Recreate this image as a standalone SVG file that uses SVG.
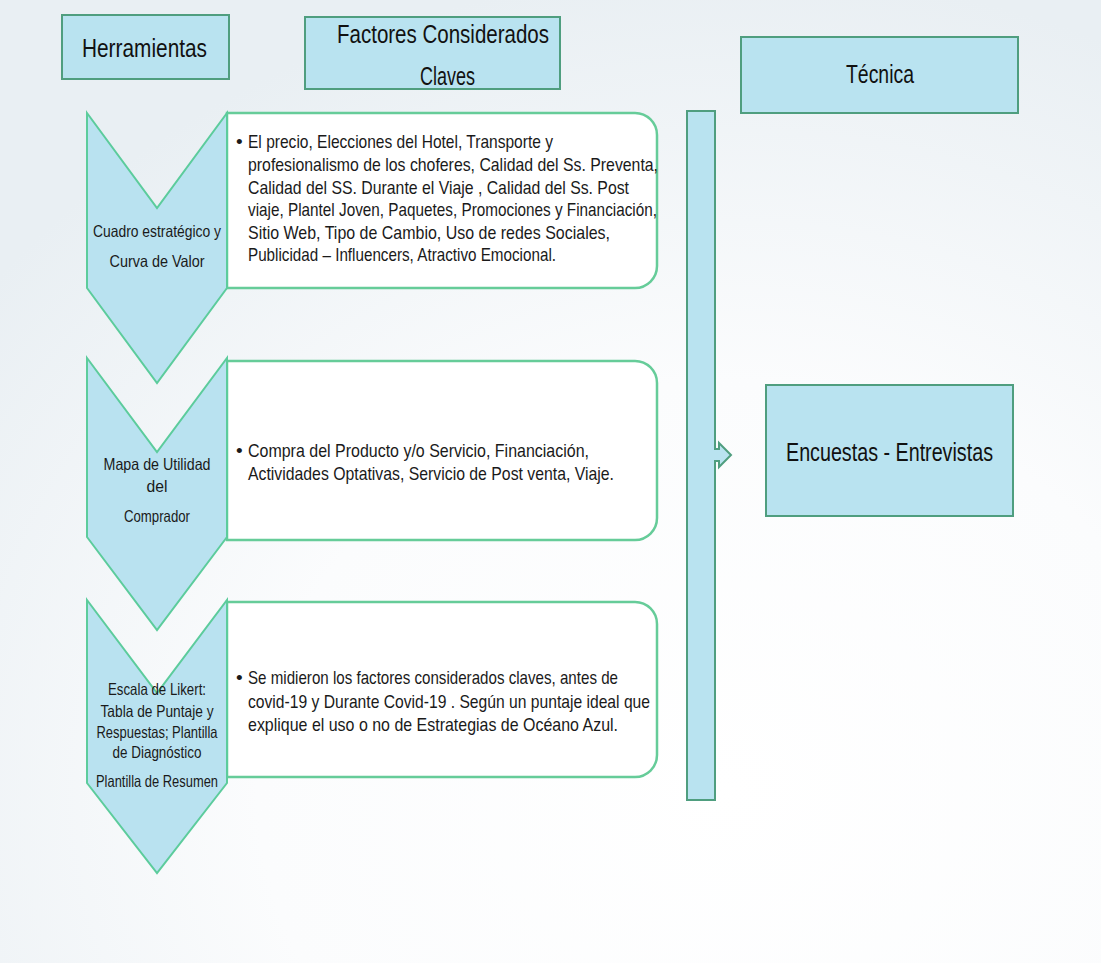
<svg xmlns="http://www.w3.org/2000/svg" width="1101" height="963" viewBox="0 0 1101 963">
<defs>
<radialGradient id="bg" cx="0.66" cy="0.82" r="0.85">
<stop offset="0" stop-color="#ffffff"/>
<stop offset="0.5" stop-color="#fbfcfd"/>
<stop offset="1" stop-color="#e9eff3"/>
</radialGradient>
<style>
.hdr{fill:#b9e3f0;stroke:#4f9e7f;stroke-width:2}
.chev{fill:#b9e2f0;stroke:#5ccc9c;stroke-width:2;stroke-linejoin:miter}
.box{fill:#ffffff;stroke:#66cc99;stroke-width:2.5}
.ht{font-family:"Liberation Sans",Arial,sans-serif;font-size:26px;fill:#111}
.bt{font-family:"Liberation Sans",Arial,sans-serif;font-size:19px;fill:#1a1a1a}
.ct{font-family:"Liberation Sans",Arial,sans-serif;font-size:16.5px;fill:#1a1a1a}
</style>
</defs>
<rect x="0" y="0" width="1101" height="963" fill="url(#bg)"/>

<g id="herramientas">
<rect class="hdr" x="62" y="15" width="167" height="64"/>
<text class="ht" x="82" y="57" textLength="125" lengthAdjust="spacingAndGlyphs">Herramientas</text>
</g>
<g id="factores">
<rect class="hdr" x="305" y="17" width="255" height="72"/>
<text class="ht" x="337" y="43" textLength="212" lengthAdjust="spacingAndGlyphs">Factores Considerados</text>
<text class="ht" x="420" y="85" textLength="55" lengthAdjust="spacingAndGlyphs">Claves</text>
</g>
<g id="tecnica">
<rect class="hdr" x="741" y="37" width="277" height="76"/>
<text class="ht" x="846" y="83" textLength="68" lengthAdjust="spacingAndGlyphs">Técnica</text>
</g>

<g id="box1">
<path class="box" d="M227,113 H635 A22,22 0 0 1 657,135 V266 A22,22 0 0 1 635,288 H227 Z"/>
<text class="bt" x="236" y="148">•</text>
<text class="bt" x="248" y="148" textLength="305" lengthAdjust="spacingAndGlyphs">El precio, Elecciones del Hotel, Transporte y</text>
<text class="bt" x="248" y="171" textLength="410" lengthAdjust="spacingAndGlyphs">profesionalismo de los choferes, Calidad del Ss. Preventa,</text>
<text class="bt" x="248" y="193.5" textLength="381" lengthAdjust="spacingAndGlyphs">Calidad del SS. Durante el Viaje , Calidad del Ss. Post</text>
<text class="bt" x="248" y="216" textLength="409" lengthAdjust="spacingAndGlyphs">viaje, Plantel Joven, Paquetes, Promociones y Financiación,</text>
<text class="bt" x="248" y="239" textLength="362" lengthAdjust="spacingAndGlyphs">Sitio Web, Tipo de Cambio, Uso de redes Sociales,</text>
<text class="bt" x="248" y="261" textLength="308" lengthAdjust="spacingAndGlyphs">Publicidad – Influencers, Atractivo Emocional.</text>
</g>
<g id="box2">
<path class="box" d="M227,361 H635 A22,22 0 0 1 657,383 V518 A22,22 0 0 1 635,540 H227 Z"/>
<text class="bt" x="236" y="457">•</text>
<text class="bt" x="248" y="457" textLength="341" lengthAdjust="spacingAndGlyphs">Compra del Producto y/o Servicio, Financiación,</text>
<text class="bt" x="248" y="480" textLength="366" lengthAdjust="spacingAndGlyphs">Actividades Optativas, Servicio de Post venta, Viaje.</text>
</g>
<g id="box3">
<path class="box" d="M227,602 H635 A22,22 0 0 1 657,624 V755 A22,22 0 0 1 635,777 H227 Z"/>
<text class="bt" x="236" y="684">•</text>
<text class="bt" x="248" y="684" textLength="370" lengthAdjust="spacingAndGlyphs">Se midieron los factores considerados claves, antes de</text>
<text class="bt" x="248" y="708" textLength="402" lengthAdjust="spacingAndGlyphs">covid-19 y Durante Covid-19 . Según un puntaje ideal que</text>
<text class="bt" x="248" y="731" textLength="370" lengthAdjust="spacingAndGlyphs">explique el uso o no de Estrategias de Océano Azul.</text>
</g>

<g id="chevron1">
<polygon class="chev" points="87,113 157,208 227,113 227,288 157,383 87,288"/>
<text class="ct" x="93" y="237" textLength="128" lengthAdjust="spacingAndGlyphs">Cuadro estratégico y</text>
<text class="ct" x="109.5" y="267" textLength="95" lengthAdjust="spacingAndGlyphs">Curva de Valor</text>
</g>
<g id="chevron2">
<polygon class="chev" points="87,358 157,452 227,358 227,537 157,630 87,537"/>
<text class="ct" x="103.5" y="470" textLength="107" lengthAdjust="spacingAndGlyphs">Mapa de Utilidad</text>
<text class="ct" x="146.5" y="492" textLength="21" lengthAdjust="spacingAndGlyphs">del</text>
<text class="ct" x="124" y="522" textLength="66" lengthAdjust="spacingAndGlyphs">Comprador</text>
</g>
<g id="chevron3">
<polygon class="chev" points="87,600 157,693 227,600 227,783 157,873 87,783"/>
<text class="ct" x="108" y="695" textLength="98" lengthAdjust="spacingAndGlyphs">Escala de Likert:</text>
<text class="ct" x="100.5" y="717" textLength="113" lengthAdjust="spacingAndGlyphs">Tabla de Puntaje y</text>
<text class="ct" x="96.5" y="738" textLength="121" lengthAdjust="spacingAndGlyphs">Respuestas; Plantilla</text>
<text class="ct" x="112.5" y="758" textLength="89" lengthAdjust="spacingAndGlyphs">de Diagnóstico</text>
<text class="ct" x="96" y="787" textLength="122" lengthAdjust="spacingAndGlyphs">Plantilla de Resumen</text>
</g>

<g id="connectors">
<path id="bar-arrow" class="hdr" d="M687,111 H715 V449 H719 V443 L731,455 L719,467 V461 H715 V800 H687 Z"/>
</g>

<g id="encuestas">
<rect class="hdr" x="766" y="385" width="247" height="131"/>
<text class="ht" x="786" y="461" textLength="207" lengthAdjust="spacingAndGlyphs">Encuestas - Entrevistas</text>
</g>
</svg>
